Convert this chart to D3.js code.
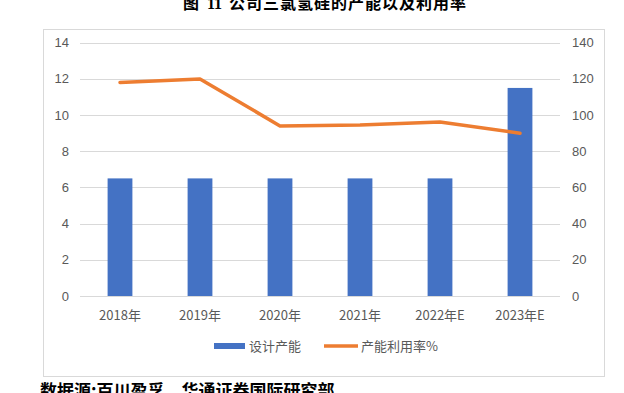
<!DOCTYPE html>
<html><head><meta charset="utf-8">
<script src="https://cdn.jsdelivr.net/npm/d3@7"></script>
<style>body{margin:0;background:#fff;}svg{display:block;}</style>
</head><body>
<svg id="c" width="624" height="393"></svg>
<script>
const categories = ["2018年","2019年","2020年","2021年","2022年E","2023年E"];
const capacity = [6.5, 6.5, 6.5, 6.5, 6.5, 11.5];
const utilization = [118, 120, 94, 94.5, 96.2, 90];
const leftTicks = [0,2,4,6,8,10,12,14];
const rightTicks = [0,20,40,60,80,100,120,140];
const seriesNames = ["设计产能","产能利用率%"];
const title = "公司三氯氢硅的产能以及利用率";
const source = "数据源:百川盈孚，华通证券国际研究部";

(function(){
const svg = d3.select("#c");
const font = "'Microsoft YaHei','Noto Sans CJK SC',sans-serif";
const pL = 80, pR = 560, pT = 42.7, pB = 296;

const t = svg.append("text").attr("y", 9).attr("font-size", 16).attr("font-weight","bold").attr("fill","#000");
t.append("tspan").attr("x",183).attr("font-family","'Noto Sans CJK SC',serif").text("图");
t.append("tspan").attr("x",207).attr("font-family","'Liberation Serif','Times New Roman',serif").text("11");
t.append("tspan").attr("x",229).attr("font-family", font).attr("letter-spacing",1).text(title);

svg.append("rect").attr("x",43.5).attr("y",29.5).attr("width",561).attr("height",347)
  .attr("fill","#fff").attr("stroke","#d9d9d9").attr("stroke-width",1);

const x = d3.scaleBand().domain(categories).range([pL,pR]).paddingInner(0.69).paddingOuter(0.345);
const xc = d3.scalePoint().domain(categories).range([pL,pR]).padding(0.5);
const yL = d3.scaleLinear().domain([0,14]).range([pB, pT]);
const yR = d3.scaleLinear().domain([0,140]).range([pB, pT]);

svg.append("g").selectAll("line").data(leftTicks).join("line")
  .attr("x1", pL).attr("x2", pR)
  .attr("y1", d=>Math.round(yL(d))+0.5).attr("y2", d=>Math.round(yL(d))+0.5)
  .attr("stroke","#d9d9d9").attr("stroke-width",1);

svg.append("g").selectAll("text").data(leftTicks).join("text")
  .attr("x", 69).attr("y", d=>yL(d)).attr("dy","0.35em").attr("text-anchor","end")
  .attr("font-family","'Liberation Sans',Arial,sans-serif").attr("font-size",13).attr("fill","#595959").text(d=>d);
svg.append("g").selectAll("text").data(rightTicks).join("text")
  .attr("x", 572).attr("y", d=>yR(d)).attr("dy","0.35em").attr("text-anchor","start")
  .attr("font-family","'Liberation Sans',Arial,sans-serif").attr("font-size",13).attr("fill","#595959").text(d=>d);

svg.append("g").selectAll("rect").data(capacity).join("rect")
  .attr("x",(d,i)=>x(categories[i])).attr("width",x.bandwidth())
  .attr("y",d=>yL(d)).attr("height",d=>yL(0)-yL(d)).attr("fill","#4472c4");

const line = d3.line().x((d,i)=>xc(categories[i])).y(d=>yR(d));
svg.append("path").datum(utilization).attr("d",line).attr("fill","none")
  .attr("stroke","#ed7d31").attr("stroke-width",3.5).attr("stroke-linejoin","round").attr("stroke-linecap","round");

svg.append("g").selectAll("text").data(categories).join("text")
  .attr("x", d=>xc(d)).attr("y", 315).attr("dy","0.35em").attr("text-anchor","middle")
  .attr("font-family",font).attr("font-size",13).attr("fill","#595959").text(d=>d);

const lg = svg.append("g");
lg.append("rect").attr("x",214).attr("y",343).attr("width",31).attr("height",6).attr("fill","#4472c4");
lg.append("text").attr("x",249).attr("y",346).attr("dy","0.35em").attr("font-family",font)
  .attr("font-size",13).attr("fill","#595959").text(seriesNames[0]);
lg.append("line").attr("x1",324).attr("x2",358).attr("y1",346).attr("y2",346)
  .attr("stroke","#ed7d31").attr("stroke-width",3.5);
lg.append("text").attr("x",361).attr("y",346).attr("dy","0.35em").attr("font-family",font)
  .attr("font-size",13).attr("fill","#595959").text(seriesNames[1]);

svg.append("text").attr("x",40).attr("y",397).attr("font-family",font).attr("font-size",17)
  .attr("font-weight","bold").attr("fill","#000").text(source);
})();
</script>
</body></html>
